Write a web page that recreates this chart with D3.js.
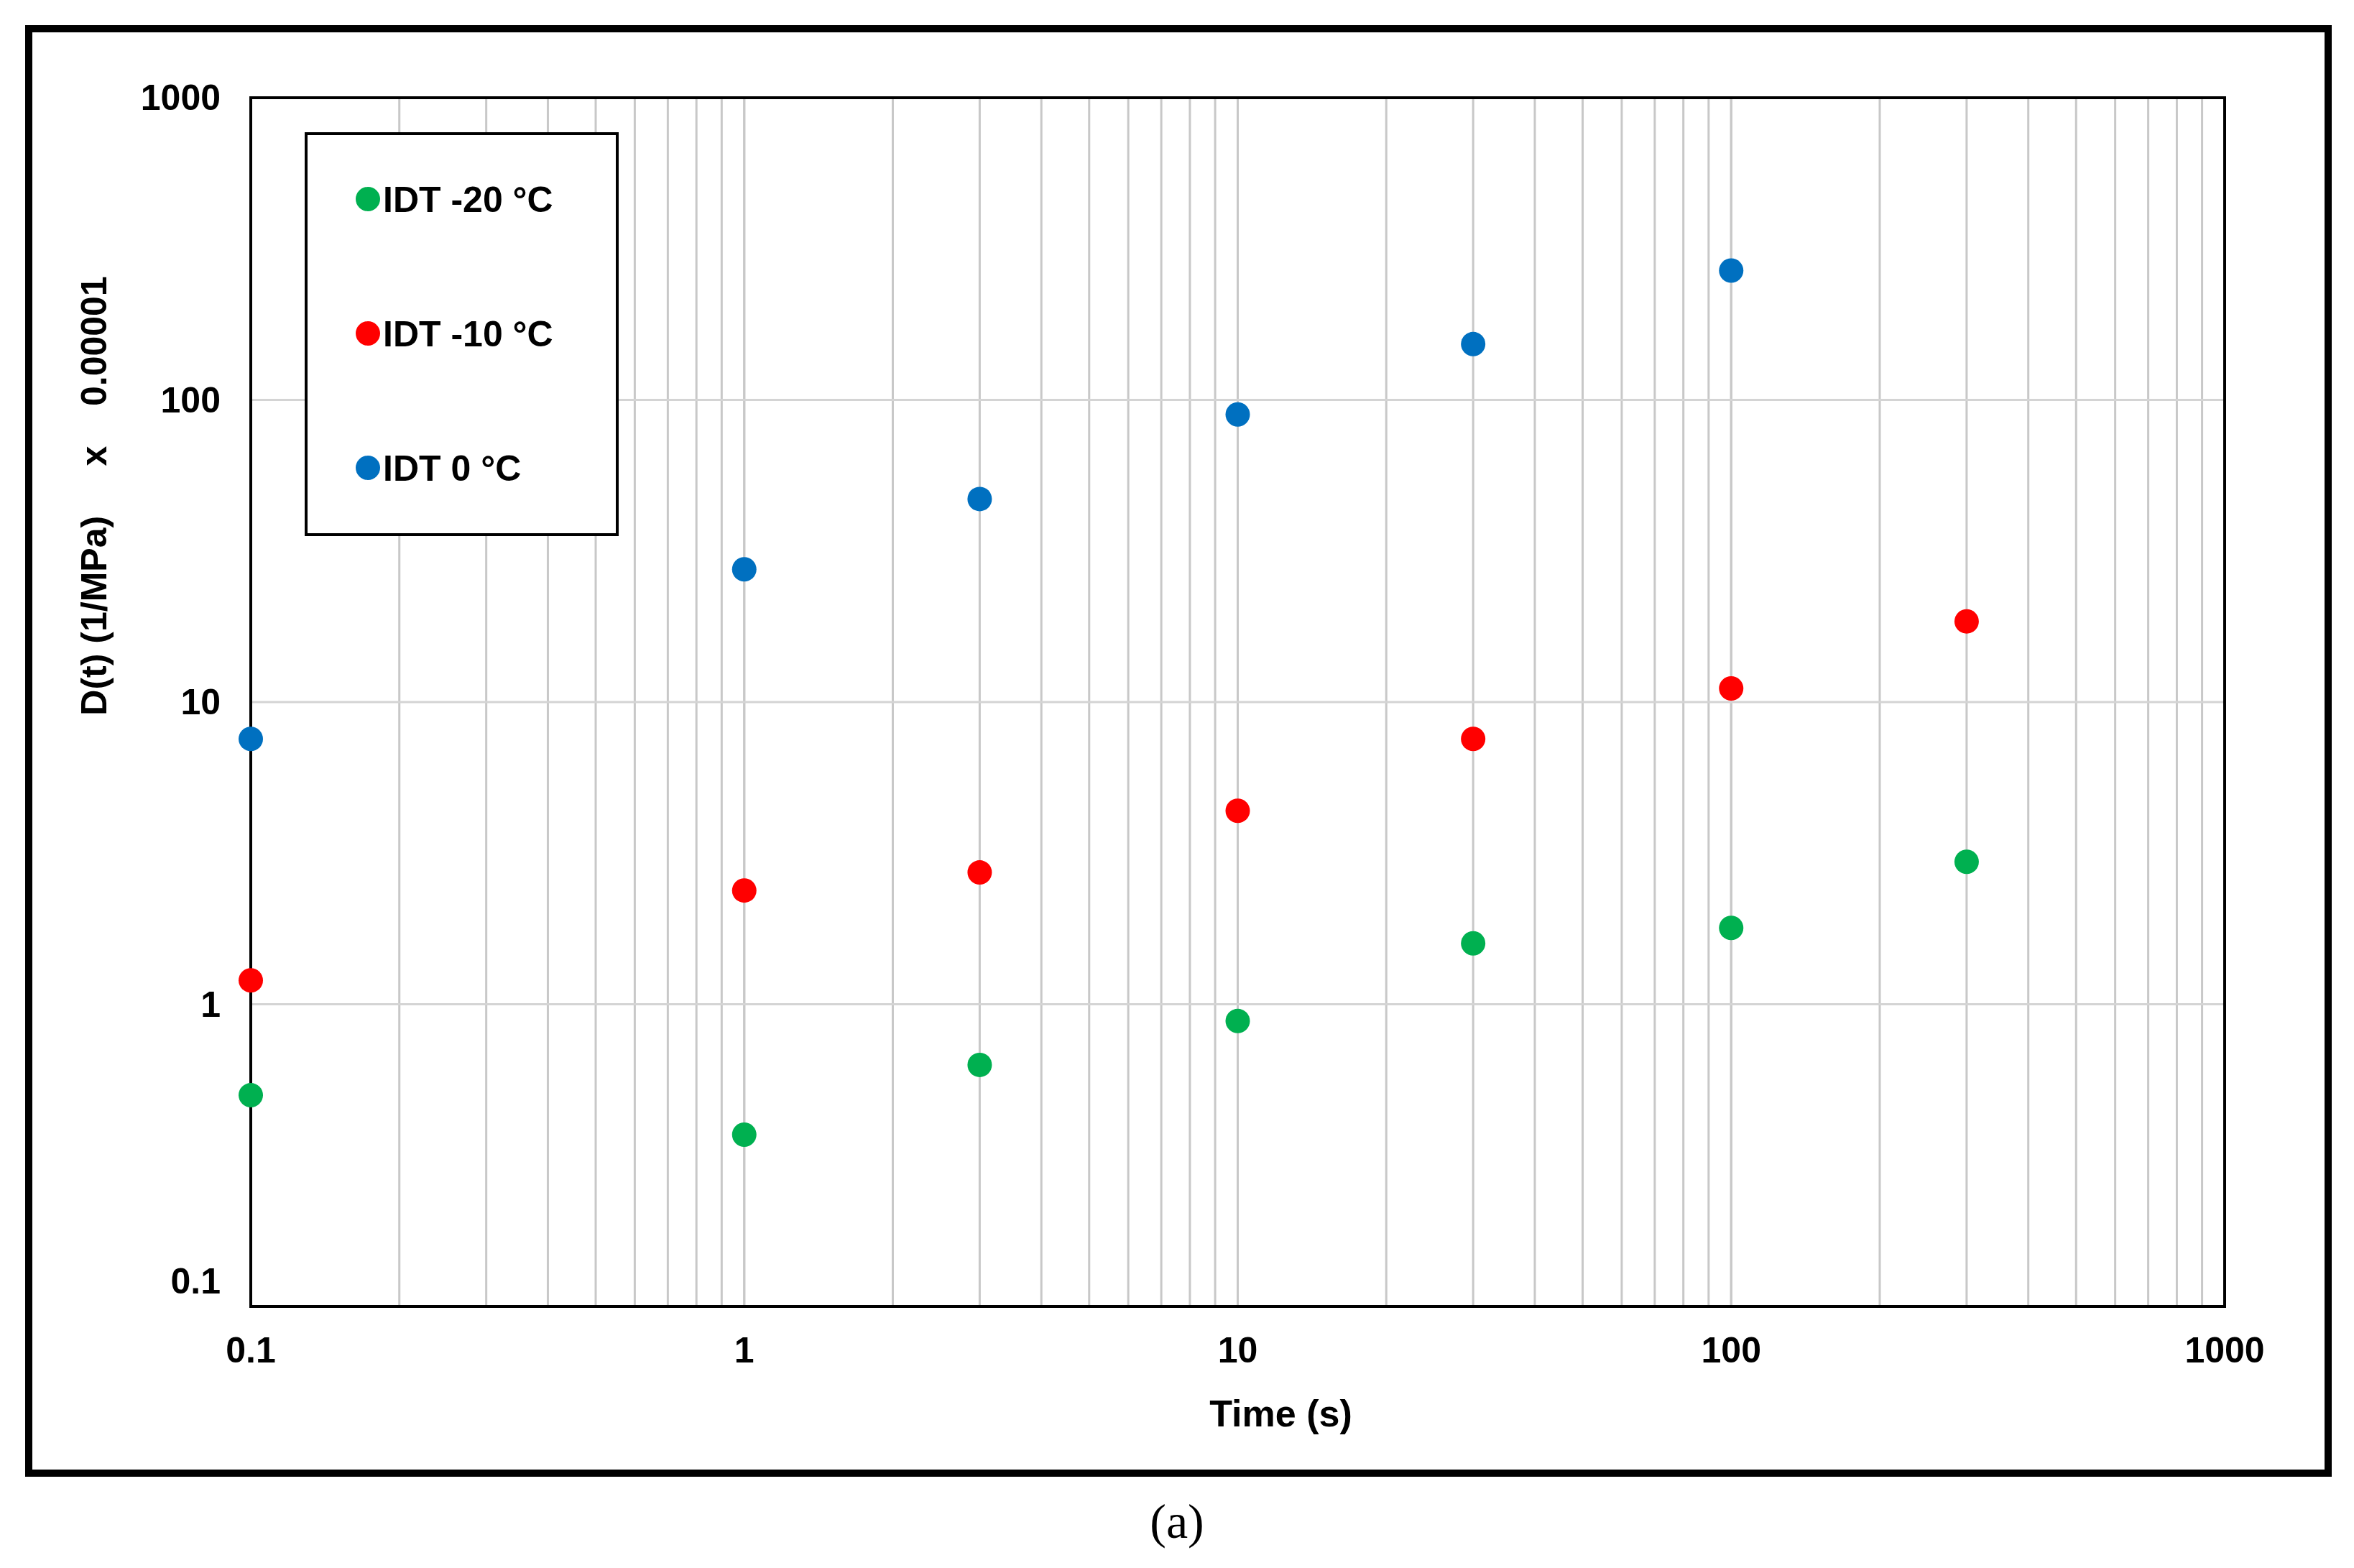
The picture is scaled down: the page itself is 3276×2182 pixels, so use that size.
<!DOCTYPE html>
<html><head><meta charset="utf-8">
<script src="https://cdn.jsdelivr.net/npm/d3@7"></script>
<style>body{margin:0;background:#fff}text{font-family:"Liberation Sans",Arial,sans-serif;font-weight:bold}</style>
</head><body><svg id="c" width="3276" height="2182"></svg>
<script>
const times = [0.1, 1, 3, 10, 30, 100, 300];
const green = [0.50, 0.37, 0.63, 0.88, 1.59, 1.79, 2.96];
const red = [1.2, 2.38, 2.73, 4.37, 7.55, 11.1, 18.5];
const blue = [7.55, 27.5, 47, 89.5, 153, 268];
const seriesNames = ["IDT -20 °C", "IDT -10 °C", "IDT 0 °C"];
const seriesColors = ["#00b050", "#ff0000", "#0070c0"];
const xTicks = [0.1, 1, 10, 100, 1000];
const yTicks = [0.1, 1, 10, 100, 1000];

const svg = d3.select("#c");
svg.append("rect").attr("width",3276).attr("height",2182).attr("fill","#fff");
svg.append("rect").attr("x",40).attr("y",40).attr("width",3200).attr("height",2010)
  .attr("fill","#fff").attr("stroke","#000").attr("stroke-width",10);

const L=349,R=3096,T=136,B=1818;
const x=d3.scaleLog().domain([0.1,1000]).range([L,R]);
const y=d3.scaleLog().domain([0.1,1000]).range([B,T]);

const minor=[];
for(let d=0.1; d<1000; d*=10) for(let k=1;k<=10;k++) minor.push(+(d*k).toPrecision(6));
svg.append("g").selectAll("line").data(minor).join("line")
  .attr("x1",d=>x(d)).attr("x2",d=>x(d)).attr("y1",T).attr("y2",B)
  .attr("stroke","#c8c8c8").attr("stroke-width",3);
svg.append("g").selectAll("line").data(yTicks).join("line")
  .attr("x1",L).attr("x2",R).attr("y1",d=>y(d)).attr("y2",d=>y(d))
  .attr("stroke","#d4d4d4").attr("stroke-width",3);
svg.append("rect").attr("x",L).attr("y",T).attr("width",R-L).attr("height",B-T)
  .attr("fill","none").attr("stroke","#000").attr("stroke-width",4);

svg.append("g").selectAll("text").data(xTicks).join("text")
  .attr("x",d=>x(d)).attr("y",B+78).attr("text-anchor","middle")
  .attr("font-size",50).text(d=>d3.format("~g")(d));
svg.append("g").selectAll("text").data(yTicks).join("text")
  .attr("x",L-42).attr("y",d=>y(d)+17-(d===0.1?35:0)).attr("text-anchor","end")
  .attr("font-size",50).text(d=>d3.format("~g")(d));

svg.append("text").attr("x",(L+R)/2+60).attr("y",1985).attr("text-anchor","middle")
  .attr("font-size",52).text("Time (s)");
svg.append("text").attr("transform","translate(148,690) rotate(-90)").attr("text-anchor","middle")
  .attr("font-size",50).attr("xml:space","preserve").text("D(t) (1/MPa)     x    0.00001");

const all=[green,red,blue];
all.forEach((vals,i)=>{
  svg.append("g").selectAll("circle").data(vals).join("circle")
    .attr("cx",(d,j)=>x(times[j])).attr("cy",d=>y(d)).attr("r",17).attr("fill",seriesColors[i]);
});

const lg=svg.append("g");
lg.append("rect").attr("x",426).attr("y",186).attr("width",433).attr("height",558)
  .attr("fill","#fff").attr("stroke","#000").attr("stroke-width",4);
seriesNames.forEach((n,i)=>{
  const yy=277+i*187;
  lg.append("circle").attr("cx",512).attr("cy",yy).attr("r",17).attr("fill",seriesColors[i]);
  lg.append("text").attr("x",533).attr("y",yy+18).attr("font-size",50).text(n);
});

svg.append("text").attr("x",1638).attr("y",2140).attr("text-anchor","middle")
  .style("font-family","'Liberation Serif',serif").style("font-weight","normal")
  .attr("font-size",68).text("(a)");
</script></body></html>
